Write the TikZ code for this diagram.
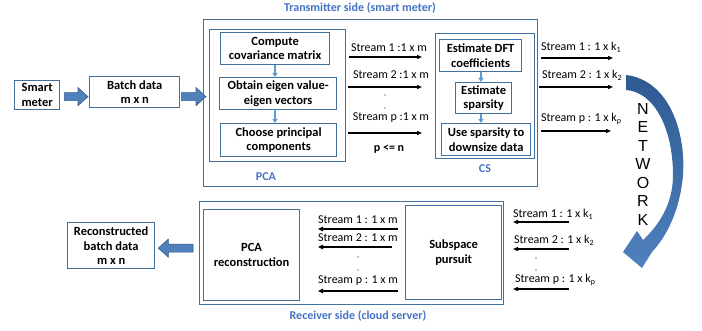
\documentclass[tikz,border=0pt]{standalone}
\usepackage{fontspec}
\setmainfont{Carlito}
\newfontfamily\netfont{Liberation Sans}
\usetikzlibrary{arrows.meta,calc}

\definecolor{boxline}{HTML}{41719C}
\definecolor{titleblue}{HTML}{4472C4}
\definecolor{arrfill}{HTML}{4F81BD}
\definecolor{arredge}{HTML}{385D8A}
\definecolor{smallarr}{HTML}{5B9BD5}
\definecolor{netdark}{HTML}{2E5A92}

% horizontal block arrow: #1 start, #2 tip, #3 = 1 (points right) or -1 (points left)
\newcommand{\blockarrow}[3]{%
  \filldraw[blockarr] let \p1=(#1), \p2=(#2) in
    (\x1,\y1+4pt) -- (\x2-#3*10pt,\y1+4pt) -- (\x2-#3*10pt,\y1+9pt) -- (\x2,\y1)
    -- (\x2-#3*10pt,\y1-9pt) -- (\x2-#3*10pt,\y1-4pt) -- (\x1,\y1-4pt) -- cycle;}

\begin{document}
\begin{tikzpicture}[x=1pt,y=-1pt,
  box/.style={draw=boxline, line width=1.3pt, inner sep=0pt, anchor=north west,
    align=center, font=\bfseries\fontsize{12.5}{14.5}\selectfont},
  frame/.style={draw=boxline, line width=1.3pt, inner sep=0pt, anchor=north west},
  title/.style={text=titleblue, inner sep=0pt, font=\bfseries\fontsize{12}{14}\selectfont},
  lbl/.style={inner sep=0pt, font=\fontsize{12}{14}\selectfont},
  stream/.style={draw=black, line width=1.1pt, -{Triangle[length=5pt,width=4pt]}},
  rstream/.style={draw=black, line width=1.9pt, -{Triangle[length=5pt,width=4.5pt]}},
  flowarr/.style={draw=smallarr, line width=1.5pt, -{Triangle[length=4pt,width=5pt]}},
  blockarr/.style={fill=arrfill, draw=arredge, line width=0.6pt},
  dotmark/.style={circle, fill=black, inner sep=0pt, minimum size=1.3pt}
]
\path[use as bounding box] (0,0) rectangle (702,331);

% ---------- source ----------
\node[box, minimum width=45pt, minimum height=29pt] (meter) at (14,80) {Smart\\meter};
\node[box, minimum width=90pt, minimum height=31pt] (batch) at (89,76) {Batch data\\m x n};

% ---------- transmitter side ----------
\node[frame, minimum width=334pt, minimum height=167pt] (tx) at (203,19) {};
\node[title] (txtitle) at (360,8) {Transmitter side (smart meter)};

\node[frame, minimum width=136pt, minimum height=132pt] (pca) at (209,29) {};
\node[box, minimum width=109pt, minimum height=32pt] (cov) at (220,32) {Compute\\covariance matrix};
\node[box, minimum width=117pt, minimum height=32pt] (eig) at (219,77) {Obtain eigen value-\\eigen vectors};
\node[box, minimum width=116pt, minimum height=33pt] (pc) at (220,123) {Choose principal\\components};
\node[title] (pcalbl) at (266,177) {PCA};

\node[frame, minimum width=99pt, minimum height=125pt] (cs) at (435,33) {};
\node[box, minimum width=82pt, minimum height=32pt] (dft) at (439,39) {Estimate DFT\\coefficients};
\node[box, minimum width=56pt, minimum height=31pt] (spars) at (455,82) {Estimate\\sparsity};
\node[box, minimum width=89pt, minimum height=32pt] (down) at (441,123) {Use sparsity to\\downsize data};
\node[title] (cslbl) at (485,169) {CS};

\draw[flowarr] (cov.south -| 275,0) -- (eig.north -| 275,0);
\draw[flowarr] (eig.north -| 275,0) ++(0,32) -- (pc.north -| 275,0);
\draw[flowarr] (dft.south -| 481,0) -- (spars.north -| 481,0);
\draw[flowarr] (spars.south -| 481,0) -- (down.north -| 481,0);

% streams from PCA to CS
\coordinate (l1a) at (349,57);  \coordinate (l1b) at (422,57);
\coordinate (l2a) at (348,87);  \coordinate (l2b) at (422,87);
\coordinate (l3a) at (348,133); \coordinate (l3b) at (422,133);
\draw[stream] (l1a) -- (l1b);
\draw[stream] (l2a) -- (l2b);
\draw[stream] (l3a) -- (l3b);
\node[lbl] (l1t) at (389,48) {Stream 1 :1 x m};
\node[lbl] (l2t) at (391,75) {Stream 2 :1 x m};
\node[lbl] (l3t) at (391,118) {Stream p :1 x m};
\node[dotmark] (ld1) at (385,95) {};
\node[dotmark] (ld2) at (385,108) {};
\node[lbl, font=\bfseries\fontsize{12}{14}\selectfont] (pn) at (389,149) {p <= n};

% streams leaving CS
\coordinate (r1a) at (541,58);  \coordinate (r1b) at (613,58);
\coordinate (r2a) at (539,87);  \coordinate (r2b) at (613,87);
\coordinate (r3a) at (541,131); \coordinate (r3b) at (611,131);
\draw[stream] (r1a) -- (r1b);
\draw[stream] (r2a) -- (r2b);
\draw[stream] (r3a) -- (r3b);
\node[lbl, anchor=west] (r1t) at (541,47) {Stream 1 : 1 x k\textsubscript{1}};
\node[lbl, anchor=west] (r2t) at (542,75) {Stream 2 : 1 x k\textsubscript{2}};
\node[lbl, anchor=west] (r3t) at (541,119) {Stream p : 1 x k\textsubscript{p}};

% ---------- network ----------
\shade[top color=netdark, bottom color=arrfill]
  (626,75) .. controls (668,80) and (686,130) .. (683,175)
  .. controls (680,210) and (667,236) .. (652,252)
  -- (642,268) -- (623,252) -- (637,231) -- (643,240)
  .. controls (658,226) and (673,205) .. (673,175)
  .. controls (673,130) and (655,92) .. (626,90) -- cycle;
\node[align=center, inner sep=0pt, font=\netfont\fontsize{16}{18.5}\selectfont] (net)
  at (643,164) {N\\E\\T\\W\\O\\R\\K};

% ---------- receiver side ----------
\node[frame, minimum width=304pt, minimum height=103pt] (rx) at (199,201) {};
\node[title] (rxtitle) at (358,316) {Receiver side (cloud server)};
\node[box, minimum width=96pt, minimum height=91pt] (rec) at (203,209) {PCA\\reconstruction};
\node[box, minimum width=96pt, minimum height=94pt] (sp) at (405,205) {Subspace\\pursuit};
\node[box, minimum width=87pt, minimum height=46pt] (out) at (67,222) {Reconstructed\\batch data\\m x n};

% incoming streams
\coordinate (i1a) at (569,222); \coordinate (i1b) at (513,222);
\coordinate (i2a) at (569,249); \coordinate (i2b) at (513,249);
\coordinate (i3a) at (569,289); \coordinate (i3b) at (513,289);
\draw[stream] (i1a) -- (i1b);
\draw[stream] (i2a) -- (i2b);
\draw[stream] (i3a) -- (i3b);
\node[lbl, anchor=west] (i1t) at (513,214) {Stream 1 : 1 x k\textsubscript{1}};
\node[lbl, anchor=west] (i2t) at (514,240) {Stream 2 : 1 x k\textsubscript{2}};
\node[lbl, anchor=west] (i3t) at (515,280) {Stream p : 1 x k\textsubscript{p}};
\node[dotmark] (id1) at (536,258) {};
\node[dotmark] (id2) at (536,270) {};

% streams from subspace pursuit to reconstruction
\coordinate (s1a) at (398,229); \coordinate (s1b) at (318,229);
\coordinate (s2a) at (392,247); \coordinate (s2b) at (318,247);
\coordinate (s3a) at (398,291); \coordinate (s3b) at (318,291);
\draw[rstream] (s1a) -- (s1b);
\draw[rstream] (s2a) -- (s2b);
\draw[rstream] (s3a) -- (s3b);
\node[lbl, anchor=west] (s1t) at (318,220) {Stream 1 : 1 x m};
\node[lbl, anchor=west] (s2t) at (318,238) {Stream 2 : 1 x m};
\node[lbl, anchor=west] (s3t) at (318,281) {Stream p : 1 x m};
\node[dotmark] (sd1) at (358,257) {};
\node[dotmark] (sd2) at (358,270) {};

% ---------- block arrows ----------
\coordinate (b1s) at ($(meter.east)+(4,1.5)$);
\coordinate (b1e) at ($(batch.west)+(-1,0)$);
\blockarrow{b1s}{b1e}{1}
\coordinate (b2s) at ($(batch.east)+(1,4.5)$);
\coordinate (b2e) at ($(tx.west)+(3,0)$);
\blockarrow{b2s}{b2e}{1}
\coordinate (b3s) at ($(rx.west)+(-6,-5)$);
\coordinate (b3e) at ($(out.east)+(3,0)$);
\blockarrow{b3s}{b3e}{-1}
\end{tikzpicture}
\end{document}
